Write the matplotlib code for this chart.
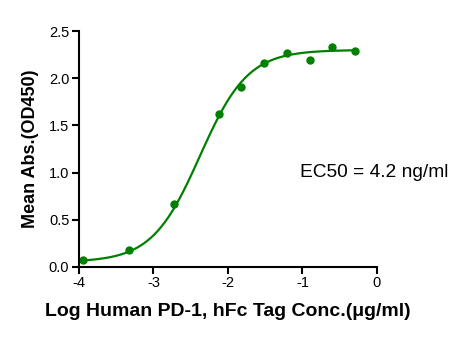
import numpy as np
import matplotlib
matplotlib.use("Agg")
import matplotlib.pyplot as plt

plt.rcParams['font.family'] = ['Liberation Sans', 'DejaVu Sans']

log_conc = [-3.94, -3.33, -2.73, -2.12, -1.82, -1.51, -1.21, -0.90, -0.60, -0.30]
mean_abs = [0.07, 0.18, 0.67, 1.62, 1.91, 2.165, 2.27, 2.19, 2.33, 2.29]

# 4-parameter logistic fit parameters
bottom = 0.05
top = 2.30
log_ec50 = np.log10(0.0042)
hill = 1.35

xticks = [-4, -3, -2, -1, 0]
yticks = [0.0, 0.5, 1.0, 1.5, 2.0, 2.5]

green = '#008000'

fig = plt.figure(figsize=(4.66, 3.42), dpi=100)
ax = fig.add_axes([0.1695, 0.22, 0.6395, 0.689])

xf = np.linspace(min(log_conc), max(log_conc), 300)
yf = bottom + (top - bottom) / (1 + 10 ** ((log_ec50 - xf) * hill))
ax.plot(xf, yf, color=green, lw=1.6)
ax.plot(log_conc, mean_abs, 'o', color=green, ms=5)

ax.set_xlim(-4, 0)
ax.set_ylim(0, 2.5)
ax.set_xticks(xticks)
ax.set_xticklabels([str(t) for t in xticks])
ax.set_yticks(yticks)
ax.set_yticklabels([f"{t:.1f}" for t in yticks])
for s in ['top', 'right']:
    ax.spines[s].set_visible(False)
for s in ['left', 'bottom']:
    ax.spines[s].set_linewidth(1.5)
ax.tick_params(direction='out', length=5, width=1.5, labelsize=10.5, pad=2)

ax.set_xlabel('Log Human PD-1, hFc Tag Conc.(\u03bcg/ml)', fontsize=14, fontweight='bold', labelpad=9)
ax.set_ylabel('Mean Abs.(OD450)', fontsize=13, fontweight='bold', labelpad=7)

ax.text(-1.03, 1.0, 'EC50 = 4.2 ng/ml', fontsize=13.8, ha='left', va='center')

fig.savefig('out.png', dpi=100)
